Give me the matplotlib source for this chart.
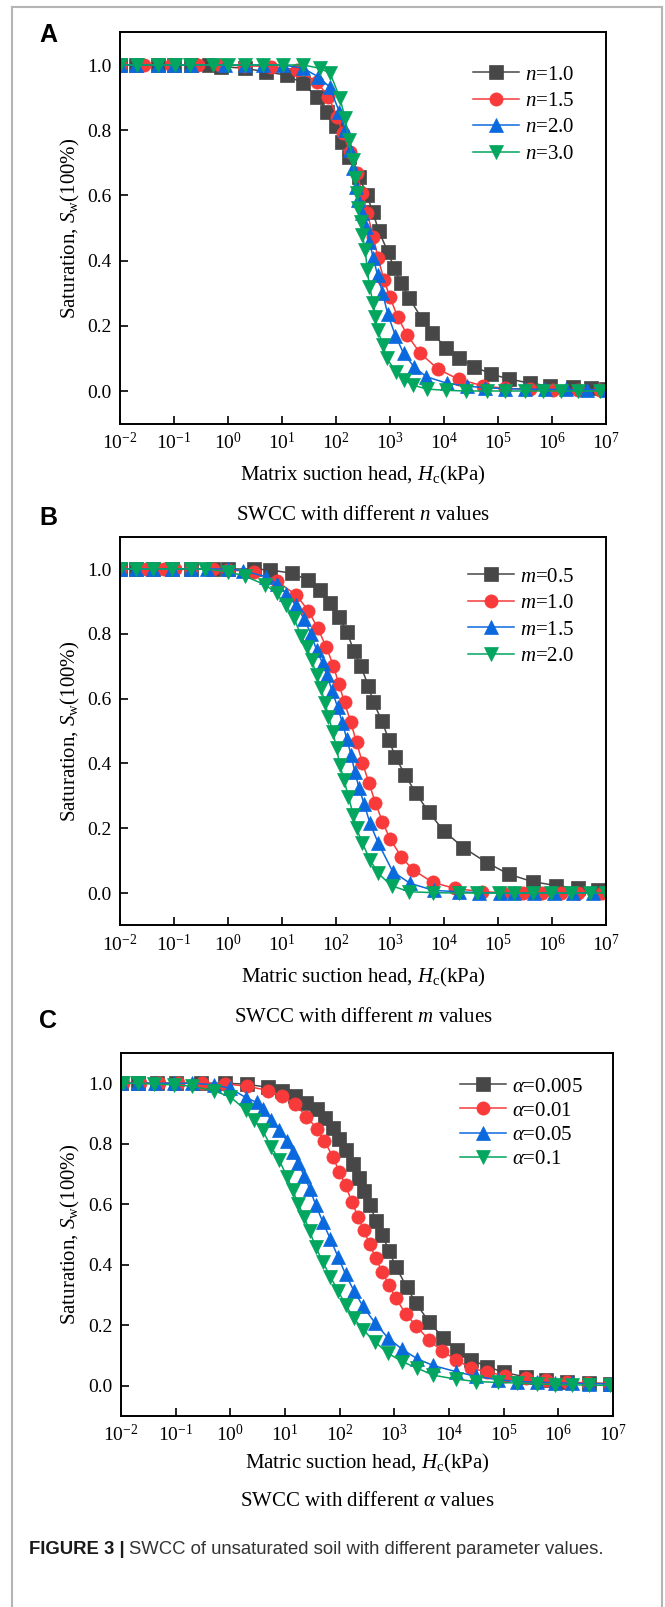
import numpy as np
import matplotlib
matplotlib.use('Agg')
import matplotlib.pyplot as plt
from matplotlib.ticker import FixedLocator, NullLocator, FuncFormatter

plt.rcParams['font.family'] = ['Liberation Serif', 'DejaVu Serif']
plt.rcParams['mathtext.fontset'] = 'custom'
plt.rcParams['mathtext.rm'] = 'Liberation Serif'
plt.rcParams['mathtext.it'] = 'Liberation Serif:italic'
plt.rcParams['mathtext.bf'] = 'Liberation Serif:bold'

# ---------------- data (log10 of suction head, saturation) ----------------
# Panel A : different n
A_n10_lg = [-2.0, -1.70, -1.30, -1.0, -0.69, -0.35, -0.13, 0.31, 0.70, 1.09, 1.38, 1.64, 1.84, 2.00, 2.12,
            2.24, 2.43, 2.57, 2.68, 2.79, 2.96, 3.08, 3.20, 3.36, 3.59, 3.77, 4.04, 4.27, 4.56, 4.87, 5.20,
            5.59, 5.96, 6.38, 6.73, 7.0]
A_n10_S = [1.0, 1.0, 1.0, 1.0, 1.0, 1.0, 0.995, 0.99, 0.979, 0.969, 0.944, 0.903, 0.857, 0.813, 0.765,
           0.717, 0.657, 0.601, 0.55, 0.492, 0.427, 0.376, 0.332, 0.284, 0.222, 0.179, 0.133, 0.102, 0.075,
           0.052, 0.037, 0.024, 0.015, 0.011, 0.008, 0.005]
A_n15_lg = [-2.0, -1.55, -1.05, -0.55, -0.15, 0.30, 0.80, 1.27, 1.64, 1.86, 2.02, 2.13, 2.26, 2.38, 2.49,
            2.58, 2.69, 2.78, 2.89, 3.00, 3.14, 3.32, 3.56, 3.89, 4.27, 4.72, 5.13, 5.59, 6.02, 6.49, 6.89]
A_n15_S = [1.0, 1.0, 1.0, 1.0, 1.0, 0.998, 0.995, 0.985, 0.949, 0.903, 0.841, 0.792, 0.732, 0.668, 0.606,
           0.545, 0.473, 0.407, 0.340, 0.287, 0.228, 0.171, 0.116, 0.067, 0.036, 0.016, 0.008, 0.005, 0.003,
           0.003, 0.002]
A_n20_lg = [-2.0, -1.70, -1.30, -1.0, -0.69, -0.05, 0.31, 0.65, 1.02, 1.39, 1.67, 1.88, 2.06, 2.17, 2.26,
            2.32, 2.37, 2.41, 2.48, 2.56, 2.62, 2.69, 2.77, 2.86, 2.96, 3.10, 3.25, 3.44, 3.67, 4.05, 4.42,
            4.76, 5.13, 5.50, 5.87, 6.25, 6.65, 7.0]
A_n20_S = [1.0, 1.0, 1.0, 1.0, 1.0, 1.0, 1.0, 1.0, 1.0, 0.99, 0.964, 0.933, 0.857, 0.80, 0.739, 0.683,
           0.627, 0.586, 0.547, 0.504, 0.458, 0.407, 0.356, 0.302, 0.235, 0.17, 0.116, 0.075, 0.044, 0.024,
           0.015, 0.010, 0.007, 0.006, 0.005, 0.005, 0.004, 0.004]
A_n30_lg = [-2.0, -1.68, -1.29, -0.99, -0.70, -0.28, 0.0, 0.31, 0.65, 1.02, 1.39, 1.70, 1.89, 2.07, 2.17,
            2.24, 2.31, 2.35, 2.38, 2.41, 2.46, 2.49, 2.54, 2.58, 2.62, 2.69, 2.73, 2.77, 2.87, 2.94, 3.11,
            3.25, 3.43, 3.68, 4.04, 4.41, 4.79, 5.13, 5.50, 5.84, 6.17, 6.49, 6.89]
A_n30_S = [1.0, 1.0, 1.0, 1.0, 1.0, 1.0, 1.0, 1.0, 1.0, 1.0, 1.0, 0.99, 0.975, 0.90, 0.836, 0.77, 0.709,
           0.652, 0.606, 0.56, 0.519, 0.479, 0.433, 0.371, 0.32, 0.269, 0.228, 0.187, 0.141, 0.10, 0.059,
           0.035, 0.018, 0.006, 0.002, 0.0, 0.0, 0.0, 0.0, 0.0, 0.0, 0.0, 0.0]

# Panel B : different m
B_m05_lg = [-2.0, -1.70, -1.39, -1.03, -0.68, -0.28, 0.0, 0.48, 0.78, 1.18, 1.48, 1.70, 1.89, 2.06, 2.20,
            2.33, 2.46, 2.60, 2.69, 2.85, 2.98, 3.10, 3.28, 3.48, 3.72, 4.0, 4.36, 4.79, 5.2, 5.64, 6.07,
            6.48, 6.86]
B_m05_S = [1.0, 1.0, 1.0, 1.0, 1.0, 1.0, 1.0, 1.0, 0.997, 0.987, 0.966, 0.935, 0.896, 0.853, 0.806, 0.748,
           0.70, 0.639, 0.59, 0.531, 0.472, 0.421, 0.364, 0.308, 0.249, 0.191, 0.14, 0.094, 0.058, 0.035,
           0.023, 0.014, 0.009]
B_m10_lg = [-2.0, -1.52, -1.19, -0.99, -0.68, -0.28, 0.0, 0.48, 0.90, 1.26, 1.49, 1.66, 1.82, 1.95, 2.05,
            2.16, 2.27, 2.38, 2.49, 2.61, 2.73, 2.86, 3.0, 3.21, 3.42, 3.79, 4.20, 4.70, 5.10, 5.47, 5.81,
            6.16, 6.49, 6.92]
B_m10_S = [1.0, 1.0, 1.0, 1.0, 1.0, 1.0, 0.998, 0.99, 0.963, 0.92, 0.871, 0.818, 0.759, 0.702, 0.646,
           0.588, 0.528, 0.466, 0.401, 0.34, 0.278, 0.22, 0.167, 0.112, 0.072, 0.033, 0.014, 0.004, 0.001,
           0.0, 0.0, 0.0, 0.0, 0.0]
B_m15_lg = [-2.0, -1.70, -1.39, -1.03, -0.68, -0.39, 0.0, 0.28, 0.70, 0.90, 1.08, 1.25, 1.41, 1.54, 1.64,
            1.75, 1.83, 1.93, 2.03, 2.12, 2.20, 2.28, 2.35, 2.43, 2.52, 2.63, 2.78, 3.05, 3.37, 3.81, 4.27,
            4.64, 5.03, 5.30, 5.67, 6.04, 6.38, 6.75]
B_m15_S = [1.0, 1.0, 1.0, 1.0, 1.0, 1.0, 1.0, 0.995, 0.976, 0.955, 0.924, 0.89, 0.846, 0.798, 0.75, 0.71,
           0.672, 0.624, 0.573, 0.525, 0.475, 0.426, 0.372, 0.323, 0.275, 0.215, 0.155, 0.066, 0.03, 0.008,
           0.004, 0.001, 0.0, 0.0, 0.0, 0.0, 0.0, 0.0]
B_m20_lg = [-2.0, -1.70, -1.39, -1.03, -0.68, -0.43, 0.0, 0.31, 0.69, 0.90, 1.07, 1.22, 1.36, 1.46, 1.55,
            1.64, 1.72, 1.80, 1.86, 1.94, 2.01, 2.07, 2.15, 2.23, 2.32, 2.38, 2.49, 2.63, 2.78, 3.03, 3.36,
            3.80, 4.27, 4.62, 5.01, 5.29, 5.64, 5.99, 6.35, 6.70, 7.0]
B_m20_S = [1.0, 1.0, 1.0, 1.0, 1.0, 1.0, 0.992, 0.978, 0.951, 0.925, 0.889, 0.848, 0.793, 0.758, 0.719,
           0.673, 0.632, 0.585, 0.544, 0.498, 0.447, 0.395, 0.349, 0.297, 0.241, 0.20, 0.153, 0.102, 0.061,
           0.022, 0.004, 0.001, 0.0, 0.0, 0.0, 0.0, 0.0, 0.0, 0.0, 0.0, 0.0]

# Panel C : different alpha
C_a0005_lg = [-2.0, -1.69, -1.34, -0.99, -0.53, -0.10, 0.31, 0.69, 0.94, 1.19, 1.39, 1.59, 1.73, 1.87,
              1.99, 2.12, 2.24, 2.35, 2.45, 2.55, 2.67, 2.78, 2.90, 3.03, 3.23, 3.40, 3.63, 3.89, 4.14, 4.41,
              4.70, 5.01, 5.40, 5.78, 6.16, 6.56, 6.95]
C_a0005_S = [1.0, 1.0, 1.0, 1.0, 1.0, 1.0, 0.997, 0.986, 0.975, 0.959, 0.936, 0.915, 0.886, 0.852, 0.816,
             0.778, 0.732, 0.688, 0.644, 0.597, 0.545, 0.50, 0.446, 0.393, 0.325, 0.272, 0.212, 0.159, 0.118,
             0.085, 0.063, 0.044, 0.029, 0.020, 0.012, 0.009, 0.007]
C_a001_lg = [-1.96, -1.65, -1.30, -0.95, -0.51, -0.10, 0.31, 0.69, 0.94, 1.19, 1.39, 1.59, 1.72, 1.88,
             1.99, 2.11, 2.22, 2.34, 2.44, 2.55, 2.66, 2.78, 2.90, 3.03, 3.21, 3.40, 3.63, 3.87, 4.13, 4.41,
             4.70, 5.03, 5.40, 5.78, 6.16, 6.54, 6.95]
C_a001_S = [1.0, 1.0, 1.0, 1.0, 1.0, 0.998, 0.990, 0.976, 0.957, 0.930, 0.890, 0.849, 0.809, 0.756, 0.707,
            0.663, 0.608, 0.558, 0.514, 0.468, 0.421, 0.377, 0.333, 0.289, 0.237, 0.198, 0.152, 0.115, 0.086,
            0.058, 0.045, 0.033, 0.025, 0.018, 0.012, 0.009, 0.007]
C_a005_lg = [-2.0, -1.69, -1.38, -1.03, -0.70, -0.30, 0.0, 0.29, 0.48, 0.59, 0.75, 0.89, 1.04, 1.14, 1.24,
             1.35, 1.45, 1.56, 1.69, 1.83, 1.97, 2.11, 2.26, 2.43, 2.64, 2.88, 3.14, 3.42, 3.71, 4.12, 4.49,
             4.89, 5.24, 5.61, 5.94, 6.25, 6.56, 6.95]
C_a005_S = [1.0, 1.0, 1.0, 1.0, 1.0, 0.995, 0.983, 0.952, 0.937, 0.915, 0.879, 0.846, 0.809, 0.772, 0.736,
            0.694, 0.652, 0.599, 0.542, 0.485, 0.426, 0.368, 0.314, 0.262, 0.209, 0.159, 0.121, 0.089, 0.067,
            0.047, 0.031, 0.020, 0.014, 0.012, 0.010, 0.008, 0.007, 0.006]
C_a01_lg = [-1.96, -1.69, -1.40, -1.03, -0.70, -0.30, 0.0, 0.29, 0.44, 0.59, 0.75, 0.89, 1.04, 1.14, 1.24,
            1.35, 1.45, 1.56, 1.69, 1.83, 1.97, 2.11, 2.26, 2.43, 2.64, 2.88, 3.14, 3.42, 3.71, 4.12, 4.49,
            4.89, 5.24, 5.61, 5.94, 6.25, 6.56, 6.95]
C_a01_S = [1.0, 1.0, 0.997, 0.995, 0.99, 0.975, 0.955, 0.91, 0.877, 0.844, 0.789, 0.747, 0.69, 0.646, 0.602,
           0.558, 0.511, 0.459, 0.41, 0.36, 0.314, 0.267, 0.223, 0.185, 0.146, 0.108, 0.08, 0.058, 0.035,
           0.022, 0.014, 0.011, 0.009, 0.006, 0.004, 0.003, 0.002, 0.001]

x_ticks_exp = [-2, -1, 0, 1, 2, 3, 4, 5, 6, 7]
y_ticks = [0.0, 0.2, 0.4, 0.6, 0.8, 1.0]

colors = ['#474747', '#f83a3a', '#0b69de', '#03a65e']
markers = ['s', 'o', '^', 'v']

panels = [
    dict(letter='A', rect=(120, 32.4, 606, 423.6),
         series=[(A_n10_lg, A_n10_S), (A_n15_lg, A_n15_S), (A_n20_lg, A_n20_S), (A_n30_lg, A_n30_S)],
         labels=[r'$n$=1.0', r'$n$=1.5', r'$n$=2.0', r'$n$=3.0'],
         xlabel=r'Matrix suction head, $H_{\mathrm{c}}$(kPa)',
         sub=r'SWCC with different $n$ values', leg=(473, 65), lsp=0.33,
         xl_y=475, sub_y=515, let_y=35),
    dict(letter='B', rect=(120, 536.6, 606, 925.4),
         series=[(B_m05_lg, B_m05_S), (B_m10_lg, B_m10_S), (B_m15_lg, B_m15_S), (B_m20_lg, B_m20_S)],
         labels=[r'$m$=0.5', r'$m$=1.0', r'$m$=1.5', r'$m$=2.0'],
         xlabel=r'Matric suction head, $H_{\mathrm{c}}$(kPa)',
         sub=r'SWCC with different $m$ values', leg=(468, 567), lsp=0.33,
         xl_y=977, sub_y=1017, let_y=518),
    dict(letter='C', rect=(121, 1053, 613, 1416),
         series=[(C_a0005_lg, C_a0005_S), (C_a001_lg, C_a001_S), (C_a005_lg, C_a005_S), (C_a01_lg, C_a01_S)],
         labels=[r'$\alpha$=0.005', r'$\alpha$=0.01', r'$\alpha$=0.05', r'$\alpha$=0.1'],
         xlabel=r'Matric suction head, $H_{\mathrm{c}}$(kPa)',
         sub=r'SWCC with different $\alpha$ values', leg=(460, 1077), lsp=0.22,
         xl_y=1463, sub_y=1502, let_y=1021),
]

W, H = 665, 1607
fig = plt.figure(figsize=(W / 100, H / 100), dpi=100)


def fx(x):
    return x / W


def fy(y):
    return 1 - y / H


for p in panels:
    l, t, r, b = p['rect']
    ax = fig.add_axes([fx(l), fy(b), (r - l) / W, (b - t) / H])
    for (lg, S), c, mk, lab in zip(p['series'], colors, markers, p['labels']):
        ax.plot(10.0 ** np.array(lg), S, '-', color=c, lw=1.1, marker=mk, ms=9.5,
                mfc=c, mec=c, mew=0.5, label=lab)
    ax.set_xscale('log')
    ax.set_xlim(1e-2, 1e7)
    ax.set_ylim(-0.1, 1.1)
    ax.xaxis.set_major_locator(FixedLocator([10.0 ** e for e in x_ticks_exp]))
    ax.xaxis.set_minor_locator(NullLocator())
    ax.xaxis.set_major_formatter(FuncFormatter(lambda v, pos: r'$10^{%d}$' % int(round(np.log10(v)))))
    ax.yaxis.set_major_locator(FixedLocator(y_ticks))
    ax.yaxis.set_major_formatter(FuncFormatter(lambda v, pos: '%.1f' % v))
    ax.tick_params(direction='in', length=6, width=1.2, labelsize=14, pad=6,
                   top=False, right=False)
    for s in ax.spines.values():
        s.set_linewidth(1.4)
    ax.legend(loc='upper left', bbox_to_anchor=(fx(p['leg'][0]), fy(p['leg'][1])),
              bbox_transform=fig.transFigure, frameon=False, fontsize=15,
              handlelength=2.2, handletextpad=0.3, labelspacing=p['lsp'],
              borderpad=0, borderaxespad=0)
    cx = (l + r) / 2
    fig.text(fx(70), fy((t + b) / 2), r'Saturation, $S_{\mathrm{w}}$(100%)', rotation=90,
             ha='center', va='center', fontsize=15)
    fig.text(fx(cx), fy(p['xl_y']), p['xlabel'], ha='center', va='center', fontsize=15)
    fig.text(fx(cx), fy(p['sub_y']), p['sub'], ha='center', va='center', fontsize=15)
    fig.text(fx(48), fy(p['let_y']), p['letter'], ha='center', va='center', fontsize=18,
             fontweight='bold', family=['Liberation Sans', 'DejaVu Sans'])

# caption
t1 = fig.text(fx(29), fy(1549), 'FIGURE 3 |', ha='left', va='center', fontsize=13.3, fontweight='bold',
              family=['Liberation Sans', 'DejaVu Sans'], color='#1a1a1a')
fig.canvas.draw()
bb = t1.get_window_extent()
fig.text(bb.x1 / W + 4 / W, fy(1549), 'SWCC of unsaturated soil with different parameter values.',
         ha='left', va='center', fontsize=13.3, family=['Liberation Sans', 'DejaVu Sans'], color='#333333')

# outer frame
frame_c = '#b5b5b5'
fig.add_artist(plt.Line2D([fx(12), fx(12)], [0, fy(7)], color=frame_c, lw=1.5))
fig.add_artist(plt.Line2D([fx(12), fx(662)], [fy(7), fy(7)], color=frame_c, lw=1.5))
fig.add_artist(plt.Line2D([fx(662), fx(662)], [0, fy(7)], color=frame_c, lw=1.5))

fig.savefig('out.png', dpi=100)
